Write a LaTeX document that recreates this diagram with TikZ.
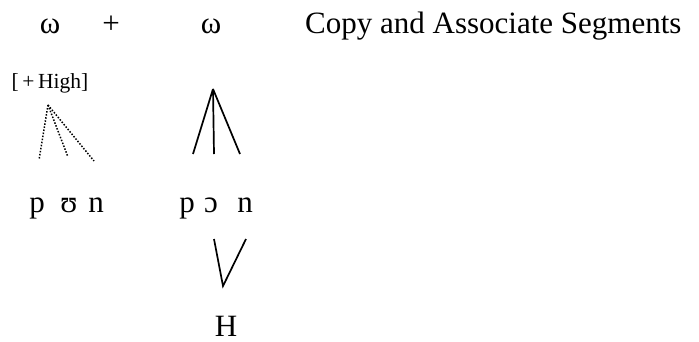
\documentclass[tikz,border=0pt]{standalone}
\usepackage{fontspec}
\setmainfont{Liberation Serif}
\usepackage{xcolor}
\usepackage{tikz}
\usetikzlibrary{positioning}
\tikzset{
  prosodic/.style={
    font=\fontsize{31}{35}\selectfont,
    inner sep=0pt,
    anchor=base
  },
  segment/.style={
    prosodic
  },
  feature/.style={
    font=\fontsize{21.5}{25}\selectfont,
    inner sep=0pt,
    anchor=base
  },
  assocline/.style={
    line width=1.7pt
  },
  spreadline/.style={
    line width=1.5pt,
    dash pattern=on 1.5pt off 1.6pt
  }
}
\begin{document}
\begin{tikzpicture}[x=1pt,y=-1pt]
    \useasboundingbox (0,0) rectangle (699,341);
    \node[prosodic] (wordone) at (50,33) {ω};
    \node[prosodic] (plus) at (111,33) {+};
    \node[prosodic] (wordtwo) at (211,33) {ω};
    \node[prosodic, anchor=base west] (caption) at (305,33) {Copy and Associate Segments};
    \node[feature] (high) at (50,88) {[\,+\,High]};

    \node[segment] (pone) at (37,212) {p};
    \node[segment] (uone) at (69,212) {ʊ};
    \node[segment] (none) at (96,212) {n};
    \node[segment] (ptwo) at (187,212) {p};
    \node[segment] (otwo) at (211,212) {ɔ};
    \node[segment] (ntwo) at (245,212) {n};
    \node[prosodic] (tone) at (226,336) {H};

    \coordinate (highroot) at (48,105);
    \coordinate (wordroot) at (213,89);
    \coordinate (pdot) at (39,160);
    \coordinate (udot) at (68,157);
    \coordinate (ndot) at (94,161);
    \coordinate (pline) at (193,154);
    \coordinate (oline) at (214,154);
    \coordinate (nline) at (240,154);
    \coordinate (olow) at (214,239);
    \coordinate (nlow) at (246,239);
    \coordinate (toneroot) at (223,286);

    \draw[spreadline] (highroot) -- (pdot);
    \draw[spreadline] (highroot) -- (udot);
    \draw[spreadline] (highroot) -- (ndot);
    \draw[assocline] (wordroot) -- (pline);
    \draw[assocline] (wordroot) -- (oline);
    \draw[assocline] (wordroot) -- (nline);
    \draw[assocline] (olow) -- (toneroot) -- (nlow);
\end{tikzpicture}
\end{document}
